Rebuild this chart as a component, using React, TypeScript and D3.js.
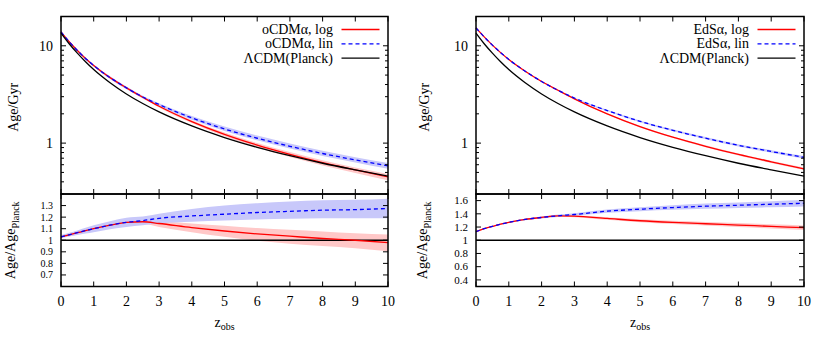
import React from "react";
import * as d3 from "d3";

// redshift grid
const Z = [0, 0.25, 0.5, 0.75, 1, 1.5, 2, 2.5, 3, 4, 5, 6, 7, 8, 9, 10];

// ΛCDM (Planck) age in Gyr
const agePlanck = [13.5, 10.5, 8.4, 6.85, 5.7, 4.17, 3.2, 2.55, 2.09, 1.5, 1.14, 0.905, 0.742, 0.621, 0.531, 0.458];

// left panel: oCDMα
const ageOcdmLog = [13.9, 11.0, 8.95, 7.42, 6.27, 4.71, 3.7, 2.96, 2.39, 1.665, 1.231, 0.955, 0.768, 0.63, 0.531, 0.449];
const ageOcdmLin = [13.9, 11.0, 8.95, 7.42, 6.27, 4.71, 3.7, 2.98, 2.49, 1.815, 1.397, 1.122, 0.928, 0.782, 0.672, 0.584];
const ratioOcdmLog = [1.03, 1.047, 1.065, 1.083, 1.1, 1.13, 1.155, 1.16, 1.145, 1.11, 1.08, 1.055, 1.035, 1.015, 1.0, 0.98];
const ratioOcdmLogLo = [1.02, 1.035, 1.05, 1.067, 1.085, 1.115, 1.14, 1.14, 1.115, 1.07, 1.03, 0.995, 0.97, 0.95, 0.93, 0.905];
const ratioOcdmLogHi = [1.04, 1.06, 1.08, 1.098, 1.115, 1.145, 1.165, 1.17, 1.165, 1.145, 1.125, 1.105, 1.09, 1.075, 1.06, 1.05];
const ratioOcdmLin = [1.03, 1.047, 1.065, 1.083, 1.1, 1.13, 1.155, 1.17, 1.19, 1.21, 1.225, 1.24, 1.25, 1.26, 1.265, 1.275];
const ratioOcdmLinLo = [1.02, 1.032, 1.045, 1.058, 1.07, 1.095, 1.115, 1.13, 1.145, 1.16, 1.17, 1.18, 1.185, 1.19, 1.19, 1.19];
const ratioOcdmLinHi = [1.045, 1.065, 1.085, 1.108, 1.13, 1.165, 1.195, 1.205, 1.23, 1.27, 1.3, 1.32, 1.335, 1.345, 1.35, 1.36];

// right panel: EdSα
const ageEdsLog = [15.26, 12.34, 10.16, 8.51, 7.24, 5.48, 4.3, 3.49, 2.85, 1.995, 1.476, 1.149, 0.928, 0.764, 0.643, 0.545];
const ageEdsLin = [15.26, 12.34, 10.16, 8.51, 7.24, 5.48, 4.3, 3.49, 2.905, 2.16, 1.676, 1.353, 1.124, 0.95, 0.82, 0.714];
const ratioEdsLog = [1.13, 1.175, 1.21, 1.243, 1.27, 1.315, 1.345, 1.37, 1.365, 1.33, 1.295, 1.27, 1.25, 1.23, 1.21, 1.19];
const ratioEdsLogLo = [1.125, 1.17, 1.204, 1.236, 1.262, 1.305, 1.333, 1.356, 1.35, 1.31, 1.273, 1.245, 1.222, 1.2, 1.178, 1.155];
const ratioEdsLogHi = [1.135, 1.18, 1.216, 1.25, 1.278, 1.325, 1.357, 1.384, 1.38, 1.35, 1.317, 1.295, 1.278, 1.26, 1.242, 1.225];
const ratioEdsLin = [1.13, 1.175, 1.21, 1.243, 1.27, 1.315, 1.345, 1.37, 1.39, 1.44, 1.47, 1.495, 1.515, 1.53, 1.545, 1.56];
const ratioEdsLinLo = [1.125, 1.169, 1.203, 1.235, 1.26, 1.303, 1.33, 1.352, 1.37, 1.415, 1.44, 1.46, 1.475, 1.488, 1.5, 1.512];
const ratioEdsLinHi = [1.135, 1.181, 1.217, 1.251, 1.28, 1.327, 1.36, 1.388, 1.41, 1.465, 1.5, 1.53, 1.555, 1.572, 1.59, 1.608];

// ticks / labels
const xTicks = [0, 1, 2, 3, 4, 5, 6, 7, 8, 9, 10];
const upperMajor = [1, 10];
const upperMinor = [0.3, 0.4, 0.5, 0.6, 0.7, 0.8, 0.9, 2, 3, 4, 5, 6, 7, 8, 9];
const lowerTicksLeft = [0.7, 0.8, 0.9, 1, 1.1, 1.2, 1.3];
const lowerTicksRight = [0.4, 0.6, 0.8, 1, 1.2, 1.4, 1.6];
const legendLeft = ["oCDMα, log", "oCDMα, lin", "ΛCDM(Planck)"];
const legendRight = ["EdSα, log", "EdSα, lin", "ΛCDM(Planck)"];

const RED = "#ff0000";
const BLUE = "#0000ff";
const RED_BAND = "#ffc8c8";
const BLUE_BAND = "#c8c8fa";
const FONT = "'Liberation Serif', 'Times New Roman', Times, serif";

type PanelProps = {
  x0: number;
  x1: number;
  ageLog: number[];
  ageLin: number[];
  rLog: number[];
  rLogLo: number[];
  rLogHi: number[];
  rLin: number[];
  rLinLo: number[];
  rLinHi: number[];
  lowerDomain: [number, number];
  lowerTicks: number[];
  lowerFmt: (v: number) => string;
  lowerFont: number;
  legend: string[];
  ylabX: number;
  ylab2X: number;
};

const UY0 = 16.5;
const UY1 = 194;
const LY0 = 194;
const LY1 = 286.5;

function Panel(p: PanelProps) {
  const x = d3.scaleLinear().domain([0, 10]).range([p.x0, p.x1]);
  const yU = d3.scaleLog().domain([0.3, 20]).range([UY1, UY0]);
  const yL = d3.scaleLinear().domain(p.lowerDomain).range([LY1, LY0]);

  const idx = Z.map((_, i) => i);
  const lineU = (arr: number[]) =>
    d3.line<number>().x((i) => x(Z[i])).y((i) => yU(arr[i])).curve(d3.curveMonotoneX)(idx) || "";
  const lineL = (arr: number[]) =>
    d3.line<number>().x((i) => x(Z[i])).y((i) => yL(arr[i])).curve(d3.curveMonotoneX)(idx) || "";
  const areaU = (mid: number[], rm: number[], lo: number[], hi: number[]) =>
    d3
      .area<number>()
      .x((i) => x(Z[i]))
      .y0((i) => yU((mid[i] * lo[i]) / rm[i]))
      .y1((i) => yU((mid[i] * hi[i]) / rm[i]))
      .curve(d3.curveMonotoneX)(idx) || "";
  const areaL = (lo: number[], hi: number[]) =>
    d3
      .area<number>()
      .x((i) => x(Z[i]))
      .y0((i) => yL(lo[i]))
      .y1((i) => yL(hi[i]))
      .curve(d3.curveMonotoneX)(idx) || "";

  const lw = 1.3;
  const tk = 5;
  const tkMinor = 3;

  const legendLines = [
    { stroke: RED, dash: undefined },
    { stroke: BLUE, dash: "4,3" },
    { stroke: "#000", dash: undefined },
  ];

  return (
    <g>
      {/* upper bands */}
      <path d={areaU(p.ageLog, p.rLog, p.rLogLo, p.rLogHi)} fill={RED_BAND} />
      <path d={areaU(p.ageLin, p.rLin, p.rLinLo, p.rLinHi)} fill={BLUE_BAND} />
      <path d={lineU(p.ageLog)} fill="none" stroke={RED} strokeWidth={lw} />
      <path d={lineU(p.ageLin)} fill="none" stroke={BLUE} strokeWidth={lw} strokeDasharray="4,3" />
      <path d={lineU(agePlanck)} fill="none" stroke="#000" strokeWidth={lw} />

      {/* lower bands */}
      <path d={areaL(p.rLogLo, p.rLogHi)} fill={RED_BAND} />
      <path d={areaL(p.rLinLo, p.rLinHi)} fill={BLUE_BAND} />
      <line x1={x(0)} x2={x(10)} y1={yL(1)} y2={yL(1)} stroke="#000" strokeWidth={lw} />
      <path d={lineL(p.rLog)} fill="none" stroke={RED} strokeWidth={lw} />
      <path d={lineL(p.rLin)} fill="none" stroke={BLUE} strokeWidth={lw} strokeDasharray="4,3" />

      {/* x ticks */}
      {xTicks.map((t) => (
        <g key={"xt" + t}>
          <line x1={x(t)} x2={x(t)} y1={UY0} y2={UY0 + tk} stroke="#000" strokeWidth={1} />
          <line x1={x(t)} x2={x(t)} y1={UY1 - tk} y2={UY1 + tk} stroke="#000" strokeWidth={1} />
          <line x1={x(t)} x2={x(t)} y1={LY1} y2={LY1 - tk} stroke="#000" strokeWidth={1} />
          <text x={x(t)} y={306} textAnchor="middle" fontSize={14} fontFamily={FONT}>
            {t}
          </text>
        </g>
      ))}

      {/* upper y ticks */}
      {upperMajor.map((t) => (
        <g key={"um" + t}>
          <line x1={p.x0} x2={p.x0 + tk} y1={yU(t)} y2={yU(t)} stroke="#000" />
          <line x1={p.x1} x2={p.x1 - tk} y1={yU(t)} y2={yU(t)} stroke="#000" />
          <text x={p.x0 - 8} y={yU(t) + 5} textAnchor="end" fontSize={14} fontFamily={FONT}>
            {t}
          </text>
        </g>
      ))}
      {upperMinor.map((t) => (
        <g key={"un" + t}>
          <line x1={p.x0} x2={p.x0 + tkMinor} y1={yU(t)} y2={yU(t)} stroke="#000" />
          <line x1={p.x1} x2={p.x1 - tkMinor} y1={yU(t)} y2={yU(t)} stroke="#000" />
        </g>
      ))}

      {/* lower y ticks */}
      {p.lowerTicks.map((t) => (
        <g key={"lt" + t}>
          <line x1={p.x0} x2={p.x0 + tk} y1={yL(t)} y2={yL(t)} stroke="#000" />
          <line x1={p.x1} x2={p.x1 - tk} y1={yL(t)} y2={yL(t)} stroke="#000" />
          <text
            x={p.x0 - 8}
            y={yL(t) + p.lowerFont * 0.34}
            textAnchor="end"
            fontSize={p.lowerFont}
            fontFamily={FONT}
          >
            {p.lowerFmt(t)}
          </text>
        </g>
      ))}

      {/* frames */}
      <rect x={p.x0} y={UY0} width={p.x1 - p.x0} height={UY1 - UY0} fill="none" stroke="#000" strokeWidth={1.5} />
      <rect x={p.x0} y={LY0} width={p.x1 - p.x0} height={LY1 - LY0} fill="none" stroke="#000" strokeWidth={1.5} />

      {/* legend */}
      {p.legend.map((s, i) => {
        const ly = 29.5 + i * 14.3;
        return (
          <g key={"lg" + i}>
            <text x={p.x1 - 55} y={ly + 4.5} textAnchor="end" fontSize={14} fontFamily={FONT}>
              {s}
            </text>
            <line
              x1={p.x1 - 46.5}
              x2={p.x1 - 8.5}
              y1={ly}
              y2={ly}
              stroke={legendLines[i].stroke}
              strokeWidth={lw}
              strokeDasharray={legendLines[i].dash}
            />
          </g>
        );
      })}

      {/* axis labels */}
      <text
        transform={`translate(${p.ylabX},${(UY0 + UY1) / 2 + 2}) rotate(-90)`}
        textAnchor="middle"
        fontSize={14}
        fontFamily={FONT}
      >
        Age/Gyr
      </text>
      <text
        transform={`translate(${p.ylab2X},${(LY0 + LY1) / 2}) rotate(-90)`}
        textAnchor="middle"
        fontSize={14}
        fontFamily={FONT}
      >
        Age/Age
        <tspan fontSize={10} dy={4}>
          Planck
        </tspan>
      </text>
      <text x={(p.x0 + p.x1) / 2} y={327} textAnchor="middle" fontSize={14} fontFamily={FONT}>
        z
        <tspan fontSize={10} dy={3}>
          obs
        </tspan>
      </text>
    </g>
  );
}

export default function App() {
  return (
    <svg
      width={830}
      height={348}
      viewBox="0 0 830 348"
      style={{ position: "absolute", left: 0, top: 0, background: "#fff" }}
    >
      <rect x={0} y={0} width={830} height={348} fill="#fff" />
      <Panel
        x0={61}
        x1={388}
        ageLog={ageOcdmLog}
        ageLin={ageOcdmLin}
        rLog={ratioOcdmLog}
        rLogLo={ratioOcdmLogLo}
        rLogHi={ratioOcdmLogHi}
        rLin={ratioOcdmLin}
        rLinLo={ratioOcdmLinLo}
        rLinHi={ratioOcdmLinHi}
        lowerDomain={[0.6, 1.4]}
        lowerTicks={lowerTicksLeft}
        lowerFmt={(v) => (v === 1 ? "1" : d3.format(".1f")(v))}
        lowerFont={10}
        legend={legendLeft}
        ylabX={18}
        ylab2X={15}
      />
      <Panel
        x0={476}
        x1={804}
        ageLog={ageEdsLog}
        ageLin={ageEdsLin}
        rLog={ratioEdsLog}
        rLogLo={ratioEdsLogLo}
        rLogHi={ratioEdsLogHi}
        rLin={ratioEdsLin}
        rLinLo={ratioEdsLinLo}
        rLinHi={ratioEdsLinHi}
        lowerDomain={[0.3, 1.7]}
        lowerTicks={lowerTicksRight}
        lowerFmt={(v) => (v === 1 ? "1" : d3.format(".1f")(v))}
        lowerFont={11}
        legend={legendRight}
        ylabX={429}
        ylab2X={427}
      />
    </svg>
  );
}
